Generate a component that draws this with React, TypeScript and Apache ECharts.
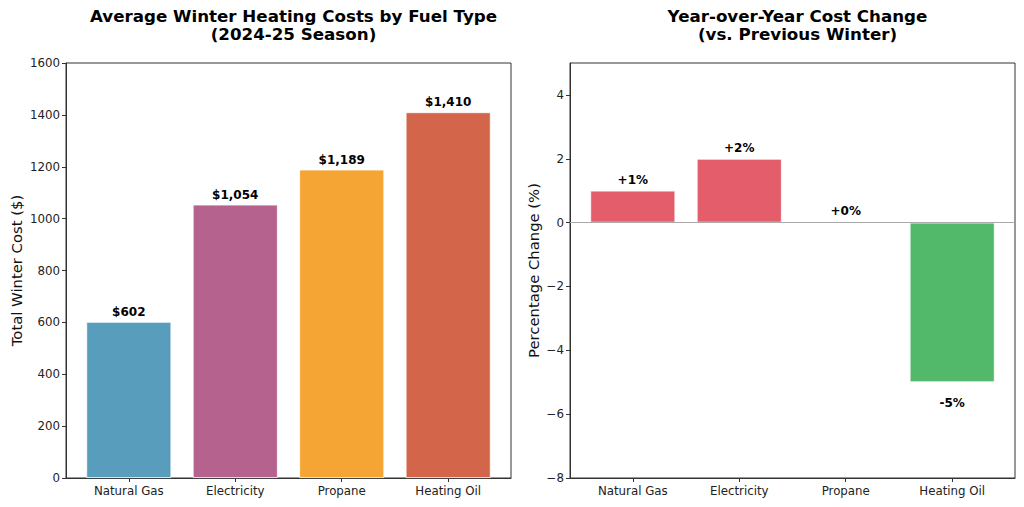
import React, { useEffect, useRef } from "react";
import * as echarts from "echarts";

const categories = ["Natural Gas", "Electricity", "Propane", "Heating Oil"];
const costValues = [602, 1054, 1189, 1410];
const costColors = ["#589EBC", "#B5628E", "#F4A534", "#D2654A"];
const changeValues = [1, 2, 0, -5];
const costTicks = { min: 0, max: 1600, interval: 200 };
const changeTicks = { min: -8, max: 5, interval: 2 };
const changeTickValues = [-8, -6, -4, -2, 0, 2, 4];

const FONT = "DejaVu Sans";

export default function App() {
  const ref = useRef<HTMLDivElement>(null);
  useEffect(() => {
    document.body.style.margin = "0";
    const chart = echarts.init(ref.current!, null, { renderer: "svg" });
    const catIdx = categories.map((_, i) => i);
    const xAxisBase = (gridIndex: number) => ({
      type: "value",
      gridIndex,
      min: -0.59,
      max: 3.59,
      splitLine: { show: false },
      axisLine: { show: true, onZero: false, lineStyle: { color: "#333", width: 1 } },
      axisTick: { show: true, inside: false, length: 4, customValues: catIdx, lineStyle: { color: "#333" } },
      axisLabel: {
        customValues: catIdx,
        formatter: (v: number) => categories[Math.round(v)] ?? "",
        color: "#222",
        fontFamily: FONT,
        fontSize: 11.8,
        margin: 7,
      },
    });
    const yAxisBase = (gridIndex: number, t: any, name: string, nameGap: number, custom?: number[]) => ({
      type: "value",
      gridIndex,
      min: t.min,
      max: t.max,
      interval: t.interval,
      name,
      nameLocation: "middle",
      nameGap,
      nameTextStyle: { fontFamily: FONT, fontSize: 14.8, color: "#111" },
      splitLine: { show: false },
      axisLine: { show: true, onZero: false, lineStyle: { color: "#333", width: 1 } },
      axisTick: custom
        ? { show: true, length: 4, customValues: custom, lineStyle: { color: "#333" } }
        : { show: true, length: 4, lineStyle: { color: "#333" } },
      axisLabel: {
        ...(custom ? { customValues: custom } : {}),
        color: "#222",
        fontFamily: FONT,
        fontSize: 11.8,
        margin: 6,
        formatter: (v: number) => String(v).replace("-", "\u2212"),
      },
    });
    const titleStyle = { fontFamily: FONT, fontSize: 16.7, fontWeight: "bold", color: "#000", lineHeight: 18 };
    chart.setOption({
      animation: false,
      title: [
        {
          text: "Average Winter Heating Costs by Fuel Type\n(2024-25 Season)",
          left: 288.5,
          top: 2,
          textAlign: "center",
          textStyle: titleStyle,
        },
        {
          text: "Year-over-Year Cost Change\n(vs. Previous Winter)",
          left: 792.5,
          top: 2,
          textAlign: "center",
          textStyle: titleStyle,
        },
      ],
      grid: [
        { left: 66, top: 63, width: 445, height: 415, show: true, borderColor: "#333", borderWidth: 1, backgroundColor: "transparent" },
        { left: 570, top: 63, width: 445, height: 415, show: true, borderColor: "#333", borderWidth: 1, backgroundColor: "transparent" },
      ],
      xAxis: [xAxisBase(0), xAxisBase(1)],
      yAxis: [
        yAxisBase(0, costTicks, "Total Winter Cost ($)", 42),
        yAxisBase(1, changeTicks, "Percentage Change (%)", 29, changeTickValues),
      ],
      series: [
        {
          type: "bar",
          xAxisIndex: 0,
          yAxisIndex: 0,
          barWidth: 85,
          data: costValues.map((v, i) => ({
            value: [i, v],
            itemStyle: { color: costColors[i], borderColor: "#fff", borderWidth: 0.8 },
          })),
          label: {
            show: true,
            position: "top",
            distance: 4,
            fontFamily: FONT,
            fontSize: 12,
            fontWeight: "bold",
            color: "#000",
            formatter: (p: any) => "$" + p.value[1].toLocaleString("en-US"),
          },
        },
        {
          type: "bar",
          xAxisIndex: 1,
          yAxisIndex: 1,
          barWidth: 85,
          data: changeValues.map((v, i) => ({
            value: [i, v],
            itemStyle: { color: v > 0 ? "#E35D6A" : "#53B96A", borderColor: "#fff", borderWidth: 0.8 },
            label: v < 0 ? { position: "bottom", distance: 15 } : { position: "top", distance: 5 },
          })),
          label: {
            show: true,
            fontFamily: FONT,
            fontSize: 12,
            fontWeight: "bold",
            color: "#000",
            formatter: (p: any) => (p.value[1] >= 0 ? "+" : "-") + Math.abs(p.value[1]) + "%",
          },
          markLine: {
            silent: true,
            symbol: "none",
            label: { show: false },
            lineStyle: { color: "#aaa", width: 1.2, type: "solid" },
            data: [{ yAxis: 0 }],
          },
        },
      ],
    });
    return () => chart.dispose();
  }, []);
  return <div ref={ref} style={{ width: 1024, height: 507 }} />;
}
